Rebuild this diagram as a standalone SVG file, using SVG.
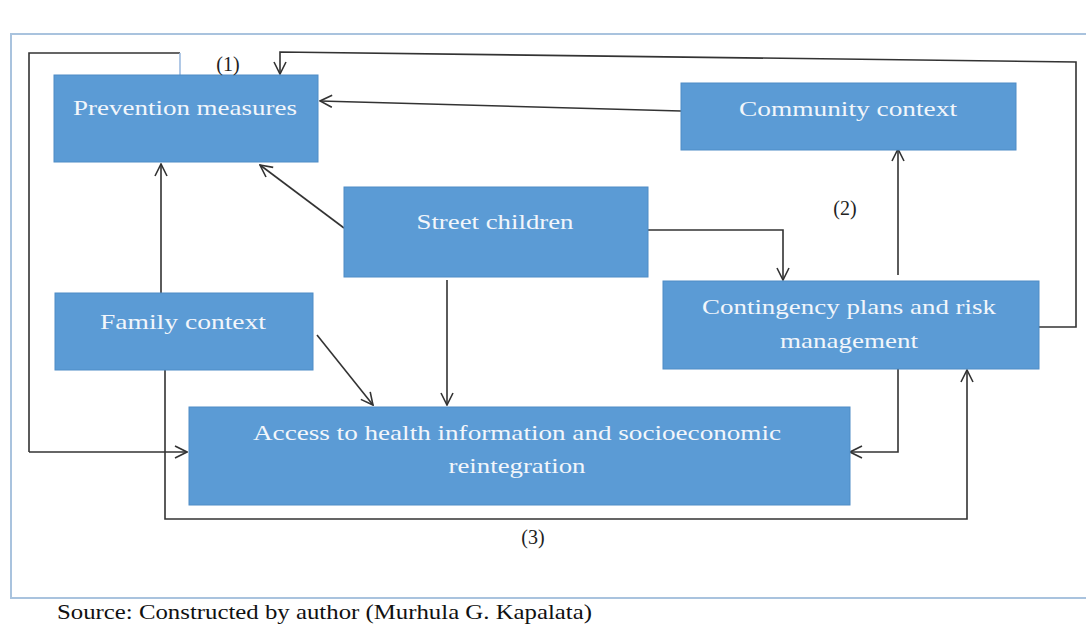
<svg xmlns="http://www.w3.org/2000/svg" width="1086" height="625" viewBox="0 0 1086 625">
<defs>
<style>
.box{fill:#5b9bd5;stroke:#4f8cc6;stroke-width:1}
.lbl{font-family:"Liberation Serif","Times New Roman",serif;font-size:21px;fill:#f2f6fb;text-anchor:middle}
.num{font-family:"Liberation Serif","Times New Roman",serif;font-size:20px;fill:#222;text-anchor:middle}
.ln{fill:none;stroke:#333;stroke-width:1.6}
.arr{fill:none;stroke:#333;stroke-width:1.6;marker-end:url(#ah)}
</style>
<marker id="ah" viewBox="0 0 14 14" refX="13" refY="7" markerWidth="14" markerHeight="14" markerUnits="userSpaceOnUse" orient="auto">
<path d="M1,1 L13,7 L1,13" fill="none" stroke="#333" stroke-width="1.6"/>
</marker>
</defs>
<rect width="1086" height="625" fill="#fff"/>
<rect x="11" y="34" width="1090" height="564" fill="none" stroke="#a9c3de" stroke-width="2"/>

<g id="connectors">
<polyline class="ln" points="180,53 29,53 29,452"/>
<line x1="180" y1="53" x2="180" y2="75" stroke="#9dbbe0" stroke-width="1.6"/>
<line class="arr" x1="29" y1="452" x2="187" y2="452"/>
<polyline class="arr" points="1039,327 1076,327 1076,62 280,52 280,74"/>
<line class="arr" x1="681" y1="111" x2="320" y2="101"/>
<line class="arr" x1="344" y1="228" x2="260" y2="165"/>
<polyline class="arr" points="648,230 783,230 783,280"/>
<line class="arr" x1="447" y1="280" x2="447" y2="405"/>
<line class="arr" x1="161" y1="293" x2="161" y2="164"/>
<line class="arr" x1="317" y1="335" x2="373" y2="405"/>
<polyline class="arr" points="165,370 165,519 967,519 967,370"/>
<polyline class="arr" points="898,369 898,452 850,452"/>
<line class="arr" x1="898" y1="275" x2="898" y2="149"/>
</g>

<g id="prevention">
<rect class="box" x="54" y="75" width="264" height="87"/>
<text class="lbl" x="185" y="115" textLength="224" lengthAdjust="spacingAndGlyphs">Prevention measures</text>
</g>
<g id="community">
<rect class="box" x="681" y="83" width="335" height="67"/>
<text class="lbl" x="848" y="116" textLength="218" lengthAdjust="spacingAndGlyphs">Community context</text>
</g>
<g id="street">
<rect class="box" x="344" y="187" width="304" height="90"/>
<text class="lbl" x="495" y="229" textLength="157" lengthAdjust="spacingAndGlyphs">Street children</text>
</g>
<g id="family">
<rect class="box" x="55" y="293" width="258" height="77"/>
<text class="lbl" x="183" y="329" textLength="166" lengthAdjust="spacingAndGlyphs">Family context</text>
</g>
<g id="contingency">
<rect class="box" x="663" y="281" width="376" height="88"/>
<text class="lbl" x="849" y="314" textLength="294" lengthAdjust="spacingAndGlyphs">Contingency plans and risk</text>
<text class="lbl" x="849" y="348" textLength="138" lengthAdjust="spacingAndGlyphs">management</text>
</g>
<g id="access">
<rect class="box" x="189" y="407" width="661" height="98"/>
<text class="lbl" x="517" y="440" textLength="528" lengthAdjust="spacingAndGlyphs">Access to health information and socioeconomic</text>
<text class="lbl" x="517" y="473" textLength="137" lengthAdjust="spacingAndGlyphs">reintegration</text>
</g>

<g id="labels">
<text class="num" x="228" y="71">(1)</text>
<text class="num" x="845" y="215">(2)</text>
<text class="num" x="533" y="544">(3)</text>
<text x="57" y="619" font-family="Liberation Serif, Times New Roman, serif" font-size="22" fill="#111" textLength="535" lengthAdjust="spacingAndGlyphs">Source: Constructed by author (Murhula G. Kapalata)</text>
</g>
</svg>
